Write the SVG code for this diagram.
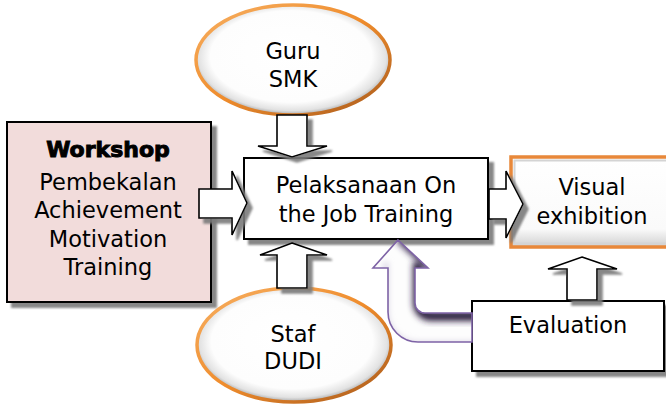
<svg xmlns="http://www.w3.org/2000/svg" width="666" height="405" viewBox="0 0 666 405">
<style>
  .t{font-family:"DejaVu Sans","Liberation Sans",sans-serif;font-size:22.5px;fill:#000;text-anchor:middle}
  .box{fill:#fff;stroke:#000;stroke-width:2}
  .blk{fill:#fff;stroke:#000;stroke-width:1.6;stroke-linejoin:miter}
  .ell{stroke:url(#ors);stroke-width:3.5}
</style>
<defs>
  <filter id="sh" x="-20%" y="-20%" width="150%" height="150%">
    <feDropShadow dx="5" dy="5" stdDeviation="1.2" flood-color="#7a7a7a" flood-opacity="0.9"/>
  </filter>
  <filter id="bl" x="-20%" y="-20%" width="140%" height="140%">
    <feGaussianBlur stdDeviation="3"/>
  </filter>
  <radialGradient id="eg" cx="50%" cy="48%" r="52%" fx="45%" fy="42%">
    <stop offset="0" stop-color="#fff"/>
    <stop offset="0.8" stop-color="#fdfdfd"/>
    <stop offset="0.93" stop-color="#e2e2e2"/>
    <stop offset="1" stop-color="#a8a8a8"/>
  </radialGradient>
  <linearGradient id="ors" x1="0" y1="0" x2="1" y2="1">
    <stop offset="0" stop-color="#f7b063"/>
    <stop offset="0.5" stop-color="#ef8c2c"/>
    <stop offset="1" stop-color="#a85a1c"/>
  </linearGradient>
  <linearGradient id="vg" x1="0" y1="0" x2="0" y2="1">
    <stop offset="0" stop-color="#fff"/>
    <stop offset="0.8" stop-color="#fafafa"/>
    <stop offset="1" stop-color="#cfcfcf"/>
  </linearGradient>
  <clipPath id="pc">
    <path d="M398,240 L428,268 L415,268 L415,303 A10,10 0 0 0 425,313 L472,313 L472,342 L418,342 A30,30 0 0 1 388,312 L388,268 L373,268 Z"/>
  </clipPath>
</defs>
<rect width="666" height="405" fill="#fff"/>

<g id="workshop">
  <rect x="7" y="122" width="204" height="180" fill="#f2dcdb" stroke="#000" stroke-width="2" filter="url(#sh)"/>
  <text x="108" y="157" class="t" style="font-weight:bold;font-size:22px;stroke:#000;stroke-width:1">Workshop</text>
  <text x="108" y="190" class="t">Pembekalan</text>
  <text x="108" y="218" class="t">Achievement</text>
  <text x="108" y="247" class="t">Motivation</text>
  <text x="108" y="275" class="t">Training</text>
</g>

<g id="main">
  <rect x="244" y="158" width="244" height="81" class="box" filter="url(#sh)"/>
  <text x="366" y="193" class="t">Pelaksanaan On</text>
  <text x="366" y="222" class="t">the Job Training</text>
</g>

<g id="guru">
  <ellipse cx="293" cy="60" rx="97" ry="55" fill="url(#eg)" class="ell"/>
  <text x="293" y="59" class="t">Guru</text>
  <text x="293" y="87" class="t">SMK</text>
</g>

<g id="staf">
  <ellipse cx="294" cy="345" rx="97" ry="57" fill="url(#eg)" class="ell"/>
  <text x="293" y="342" class="t">Staf</text>
  <text x="293" y="369" class="t">DUDI</text>
</g>

<g id="visual">
  <rect x="511" y="157" width="160" height="90" fill="url(#vg)" stroke="#e8883a" stroke-width="3.5"/>
  <rect x="514.5" y="160.5" width="153" height="83" fill="none" stroke="#d4d4d4" stroke-width="2"/>
  <text x="592" y="195" class="t">Visual</text>
  <text x="592" y="224" class="t">exhibition</text>
</g>

<g id="evaluation">
  <rect x="472" y="301" width="192" height="70" class="box" filter="url(#sh)"/>
  <text x="568" y="333" class="t">Evaluation</text>
</g>

<g id="connectors">
  <g id="arrow-workshop-main" filter="url(#sh)">
    <polygon class="blk" points="199,189 232,189 232,171 247,203 232,235 232,218 199,218"/>
  </g>
  <g id="arrow-main-visual" filter="url(#sh)">
    <polygon class="blk" points="489,189 506,189 506,171 523,204 506,238 506,219 489,219"/>
  </g>
  <g id="arrow-guru-main" filter="url(#sh)">
    <polygon class="blk" points="277,115 307,115 307,146 327,146 292,157 258,146 277,146"/>
  </g>
  <g id="arrow-staf-main" filter="url(#sh)">
    <polygon class="blk" points="292,243 327,255 307,255 307,288 277,288 277,255 260,255"/>
  </g>
  <g id="arrow-eval-visual" filter="url(#sh)">
    <polygon class="blk" points="582,257 617,269 597,269 597,300 567,300 567,269 548,269"/>
  </g>
  <g id="arrow-eval-main">
    <path d="M398,240 L428,268 L415,268 L415,303 A10,10 0 0 0 425,313 L472,313 L472,342 L418,342 A30,30 0 0 1 388,312 L388,268 L373,268 Z" fill="#fdfdfd"/>
    <g clip-path="url(#pc)">
      <path d="M418,262 L418,303 A13,13 0 0 0 431,316 L480,316" fill="none" stroke="#2a1d3d" stroke-width="10" filter="url(#bl)"/>
      <path d="M398,238 L430,268" fill="none" stroke="#3a2c52" stroke-width="7" filter="url(#bl)"/>
      <path d="M386,262 L386,312 A32,32 0 0 0 418,344 L480,344" fill="none" stroke="#cfc8dc" stroke-width="4" filter="url(#bl)"/>
    </g>
    <path d="M398,240 L428,268 L415,268 L415,303 A10,10 0 0 0 425,313 L472,313 L472,342 L418,342 A30,30 0 0 1 388,312 L388,268 L373,268 Z" fill="none" stroke="#7e63a6" stroke-width="1.6"/>
  </g>
</g>
</svg>
